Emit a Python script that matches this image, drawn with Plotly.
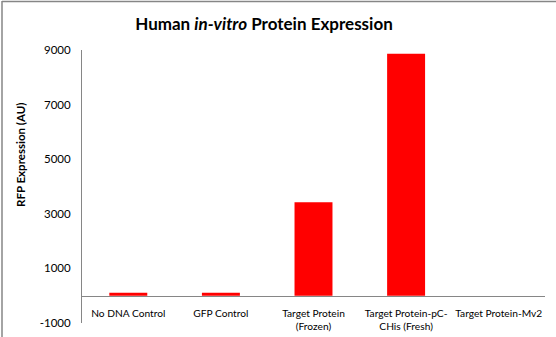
import plotly.graph_objects as go

categories = ["No DNA Control", "GFP Control", "Target Protein<br>(Frozen)",
              "Target Protein-pC-<br>CHis (Fresh)", "Target Protein-Mv2"]
values = [110, 110, 3420, 8860, 0]
y_tickvals = [-1000, 1000, 3000, 5000, 7000, 9000]
y_ticktext = ["-1000", "1000", "3000", "5000", "7000", "9000"]

FONT = "Lato"

fig = go.Figure()
fig.add_trace(go.Bar(x=categories, y=values, marker=dict(color="#FF0000", line=dict(width=0)),
                     width=0.41))

ymin, ymax = -1000, 9000
zero_pos = (0 - ymin) / (ymax - ymin)

fig.update_layout(
    width=556, height=337,
    margin=dict(l=82, r=11, t=50, b=14),
    paper_bgcolor="white", plot_bgcolor="white",
    showlegend=False,
    font=dict(family=FONT, size=11, color="black"),
    title=dict(
        text="<b>Human <i>in-vitro</i> Protein Expression</b>",
        x=264 / 556, xanchor="center", y=1 - 24 / 337, yanchor="middle",
        font=dict(family=FONT, size=17, color="black"),
    ),
    xaxis=dict(
        anchor="free", position=zero_pos, automargin=False,
        showline=True, linecolor="#868686", linewidth=1,
        ticks="", showgrid=False, zeroline=False,
        tickfont=dict(family=FONT, size=10.2, color="black"),
        ticklabelstandoff=8,
    ),
    yaxis=dict(
        range=[ymin, ymax], automargin=False,
        showline=True, linecolor="#868686", linewidth=1,
        ticks="", showgrid=False, zeroline=False,
        tickvals=y_tickvals, ticktext=y_ticktext,
        tickfont=dict(family=FONT, size=11.5, color="black"),
        ticklabelstandoff=8,
    ),
    annotations=[dict(
        text="<b>RFP Expression (AU)</b>", textangle=-90,
        xref="paper", yref="paper",
        x=(20 - 82) / 463, y=(323 - 155) / 273,
        xanchor="center", yanchor="middle", showarrow=False,
        font=dict(family=FONT, size=11.5, color="black"),
    )],
    shapes=[
        dict(type="line", xref="paper", yref="paper",
             x0=(2 - 82) / 463, x1=(556 - 82) / 463, y0=(323 - 1.5) / 273, y1=(323 - 1.5) / 273,
             line=dict(color="#868686", width=1.5)),
        dict(type="line", xref="paper", yref="paper",
             x0=(2 - 82) / 463, x1=(2 - 82) / 463, y0=(323 - 337) / 273, y1=(323 - 1) / 273,
             line=dict(color="#868686", width=1.5)),
    ],
)

fig.write_html("out.html")
